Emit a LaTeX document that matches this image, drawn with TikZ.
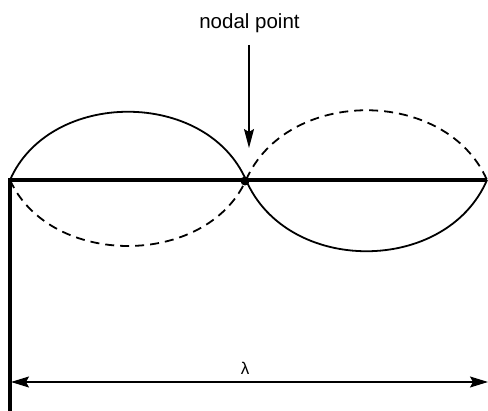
\documentclass[tikz,border=0pt]{standalone}
\usepackage{fontspec}
\setmainfont{Liberation Sans}
\usetikzlibrary{arrows.meta}
\begin{document}
\begin{tikzpicture}[x=1pt,y=-1pt,
  wave/.style={line width=1.8pt},
  wavedash/.style={line width=1.8pt, dash pattern=on 9pt off 6pt},
  axisline/.style={line width=3.2pt},
  pointer/.style={line width=1.2pt,-{Stealth[length=19pt,width=10pt,inset=3pt]}},
  dimline/.style={line width=1.2pt,{Stealth[length=18pt,width=11pt,inset=3pt]}-{Stealth[length=18pt,width=11pt,inset=3pt]}},
  lbl/.style={font=\fontsize{20.5}{24}\selectfont, inner sep=0pt},
  lamlbl/.style={font=\fontsize{17}{20}\selectfont, inner sep=0pt}]
\useasboundingbox (0,0) rectangle (488,411);
\coordinate (A) at (10,180);
\coordinate (N) at (246,180);
\coordinate (B) at (487,180);
\coordinate (Bot) at (10,411);
\coordinate (L) at (11,382);
\coordinate (R) at (488,382);
\coordinate (ptop) at (249,45);
\coordinate (ptip) at (249,148);
% waves
\draw[wave] (A) .. controls +(40,-91) and +(-40,-91) .. (N);
\draw[wavedash] (A) .. controls +(40,88) and +(-40,88) .. (N);
\draw[wave] (N) .. controls +(41,95) and +(-41,95) .. (B);
\draw[wavedash] (N) .. controls +(41,-93) and +(-41,-93) .. (B);
% axis lines
\draw[axisline] (A) -- (B);
\draw[axisline] ([yshift=1.6pt]A) -- (Bot);
% nodal point
\node[circle, fill, inner sep=0pt, minimum size=9pt] (dot) at (245,181) {};
\node[lbl, anchor=base] (np) at (249.5,29) {nodal point};
\draw[pointer] (ptop) -- (ptip);
% wavelength
\draw[dimline] (L) -- (R);
\node[lamlbl, anchor=base] (lam) at (245,375) {λ};
\end{tikzpicture}
\end{document}
